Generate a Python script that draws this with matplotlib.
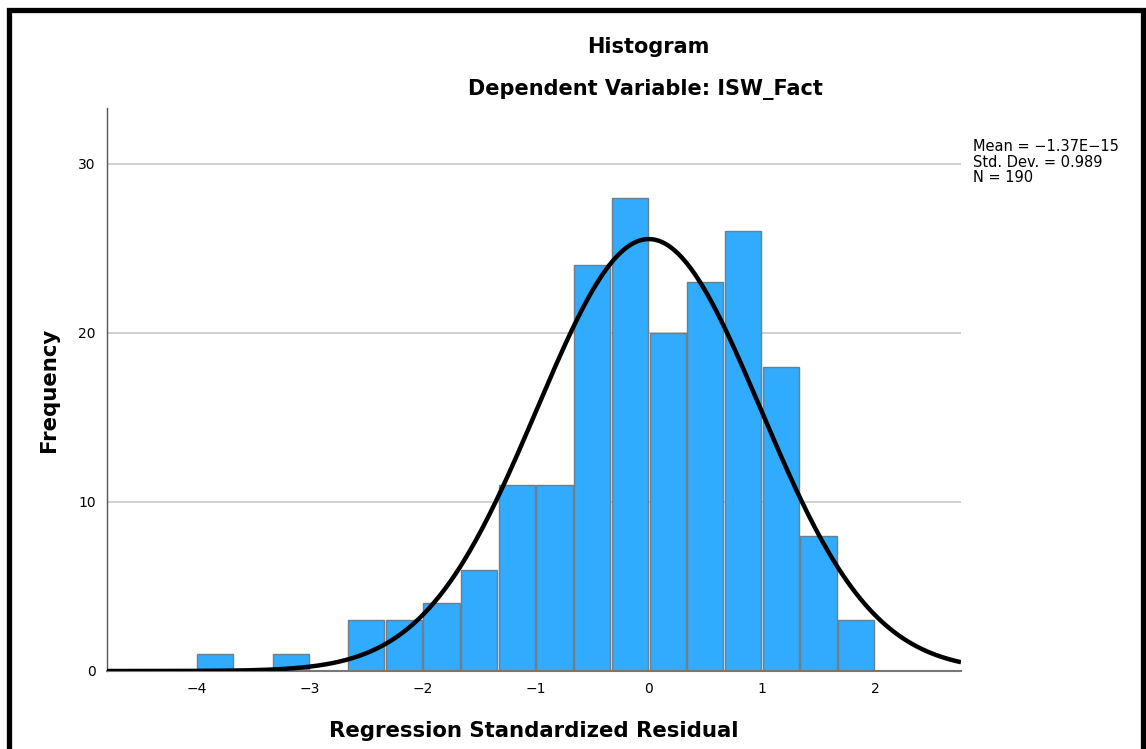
import numpy as np
import matplotlib.pyplot as plt
from matplotlib.patches import Rectangle

# bin edges (width 1/3) and counts
bin_left = np.arange(-12, 6) / 3.0
counts = [1, 0, 1, 0, 3, 3, 4, 6, 11, 11, 24, 28, 20, 23, 26, 18, 8, 3]
mean = -1.37e-15
std = 0.989
n = 190

bar_color = '#31abfe'

fig = plt.figure(figsize=(11.46, 7.49), dpi=100)
ax = fig.add_axes([107/1146, 78/749, (961-107)/1146, (671-108)/749])

bw = 1/3
ax.bar(bin_left + bw/2, counts, width=bw*0.96, color=bar_color,
       edgecolor='#6d7f8c', linewidth=1.0, zorder=2)

# normal curve scaled to counts
xs = np.linspace(-4.8, 2.76, 400)
ys = n * bw * np.exp(-0.5 * ((xs - mean) / std) ** 2) / (std * np.sqrt(2 * np.pi))
ax.plot(xs, ys, color='black', linewidth=3.2, zorder=3, solid_capstyle='butt')

ax.set_xlim(-4.79, 2.76)
ax.set_ylim(0, 33.3)
ax.set_xticks([-4, -3, -2, -1, 0, 1, 2])
ax.set_xticklabels(['\u22124', '\u22123', '\u22122', '\u22121', '0', '1', '2'])
ax.set_yticks([0, 10, 20, 30])
ax.tick_params(length=0, labelsize=10, pad=8)
ax.yaxis.grid(True, color='#c8c8c8', linewidth=1.2, zorder=0)
ax.set_axisbelow(True)
for s in ['top', 'right']:
    ax.spines[s].set_visible(False)
ax.spines['left'].set_color('#555555')
ax.spines['bottom'].set_color('#777777')
ax.spines['left'].set_linewidth(1.0)
ax.spines['bottom'].set_linewidth(1.5)

ax.set_xlabel('Regression Standardized Residual', fontsize=15.3, fontweight='bold', labelpad=18)
ax.set_ylabel('Frequency', fontsize=15.3, fontweight='bold', labelpad=14)

fig.text(648/1146, 1 - 47/749, 'Histogram', ha='center', va='center', fontsize=15, fontweight='bold')
fig.text(645/1146, 1 - 90/749, 'Dependent Variable: ISW_Fact', ha='center', va='center', fontsize=15, fontweight='bold')

fig.text(973/1146, 1 - 139/749, 'Mean = \u22121.37E\u221215\nStd. Dev. = 0.989\nN = 190',
         ha='left', va='top', fontsize=10.5, linespacing=1.05)

# outer black frame
fig.patches.append(Rectangle((8.5/1146, -0.05), (1143 - 8.5)/1146, 1.05 - 9.5/749,
                             transform=fig.transFigure, fill=False, edgecolor='black',
                             linewidth=3.8, zorder=10))

plt.savefig('out.png', dpi=100)
